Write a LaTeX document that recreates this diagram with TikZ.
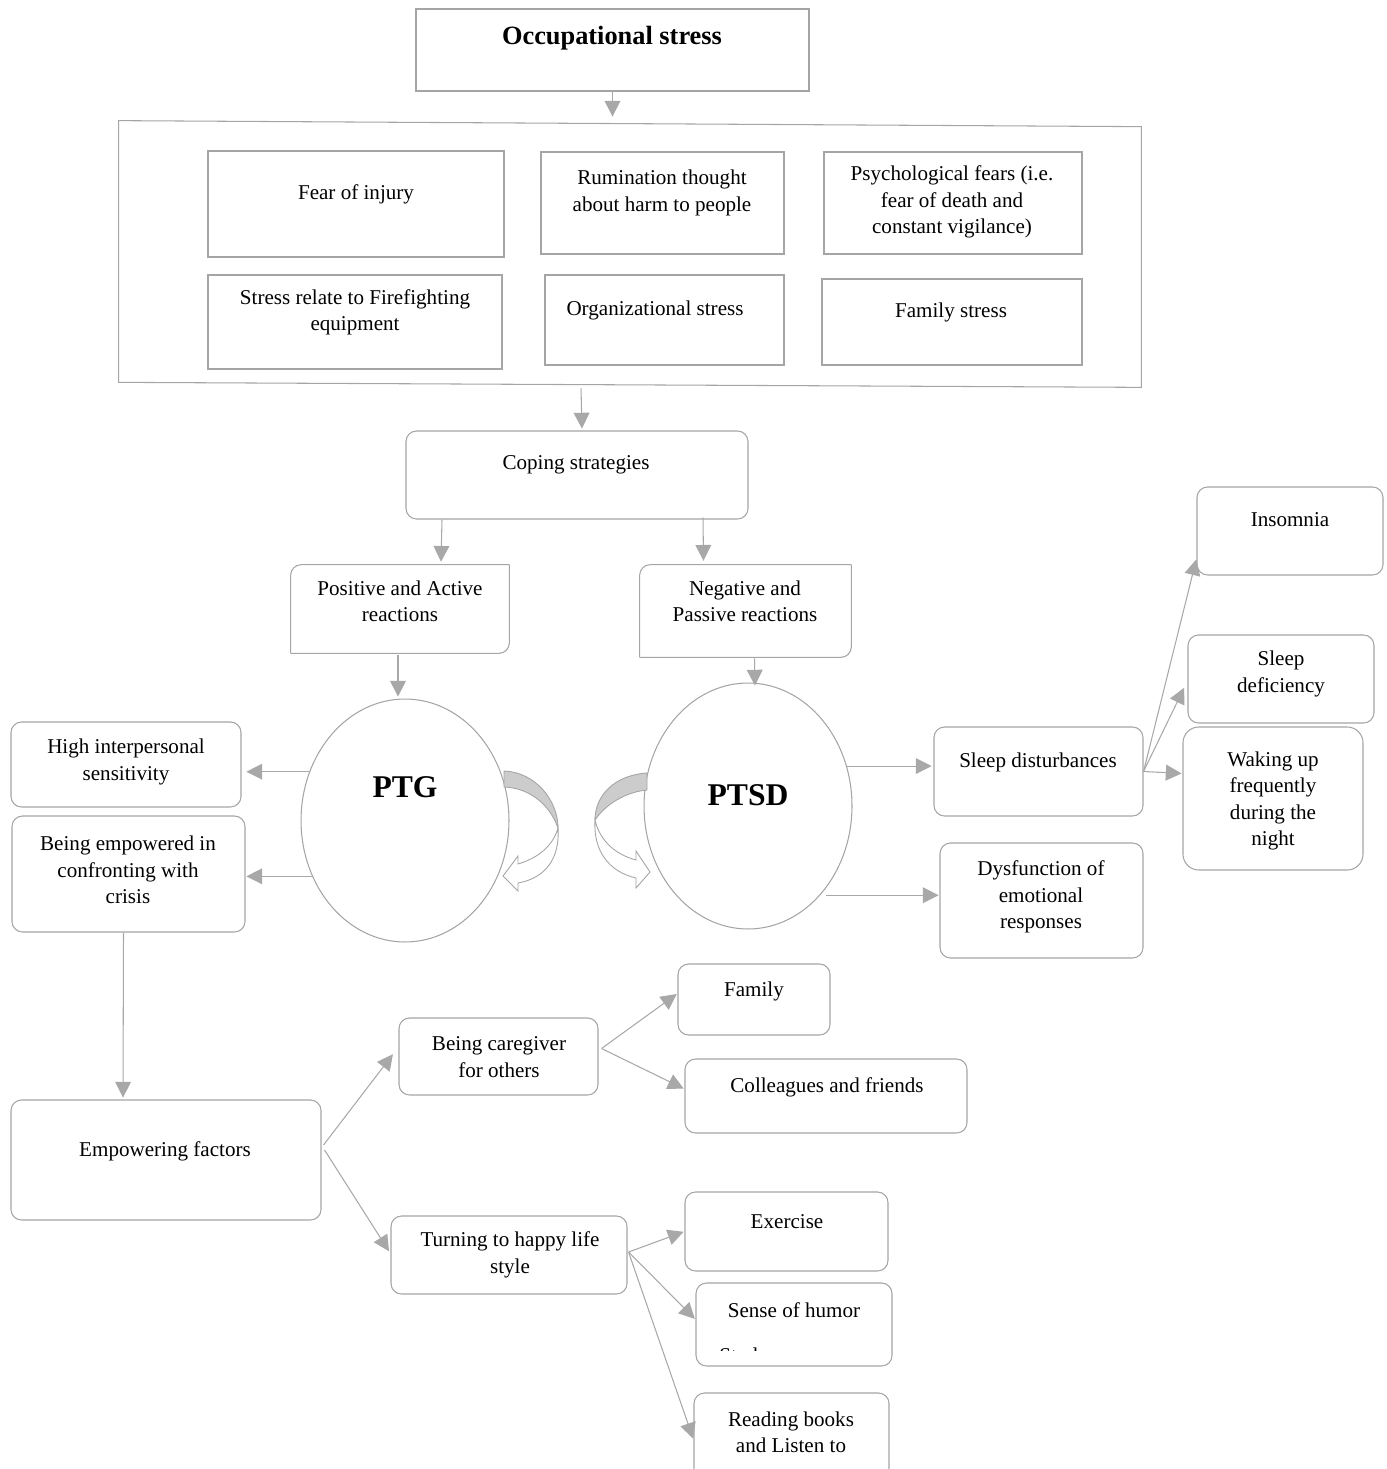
\documentclass[tikz,border=0pt]{standalone}
\usepackage{fontspec}
\setmainfont{Liberation Serif}
\usetikzlibrary{arrows.meta, calc, fit, shapes.geometric}

\definecolor{boxgray}{RGB}{165,165,165}
\definecolor{arrgray}{RGB}{168,168,168}
\definecolor{bandgray}{RGB}{204,204,204}

\tikzset{
    every node/.style={inner sep=0pt, align=center, font=\fontsize{12}{15}\selectfont},
    sq/.style={draw=boxgray, line width=0.6pt, fit={#1}},
    rsq/.style={sq={#1}, rounded corners=6pt},
    bare/.style={fit={#1}},
    cornerline/.style={draw=boxgray, line width=0.6pt, rounded corners=6pt},
    arr/.style={draw=arrgray, line width=0.6pt, -{Triangle[length=9pt, width=9pt, fill=arrgray]}, shorten >=0.5pt},
    titlefont/.style={font=\bfseries\fontsize{15}{18}\selectfont},
    bigfont/.style={font=\bfseries\fontsize{18}{21}\selectfont},
    curl/.style={draw=boxgray, line width=0.5pt}
}

\begin{document}
\begin{tikzpicture}[x=0.02cm, y=-0.02cm]
    \useasboundingbox (0,0) rectangle (1386,1469);

    % occupational stress and its sources
    \node[sq={(416,9) (809,91)}] (occ) {};
    \node[titlefont] (occtxt) at (612,38) {Occupational stress};

    \node[bare={(119,121) (1141,388)}] (stress) {};
    \draw[draw=boxgray, line width=0.6pt] (stress.north west) -- ($(stress.north east)+(0,6)$)
        -- ($(stress.south east)+(0,-1)$) -- ($(stress.south west)+(0,-6)$) -- cycle;

    \node[sq={(208,151) (504,257)}] (fear) {};
    \node[sq={(541,152) (784,254)}] (rumin) {};
    \node[sq={(824,152) (1082,254)}] (psych) {};
    \node[sq={(208,275) (502,369)}] (equip) {};
    \node[sq={(545,275) (784,365)}] (organ) {};
    \node[sq={(822,279) (1082,365)}] (famst) {};

    \node (feartxt) at (356,194) {Fear of injury};
    \node (rumintxt) at (662,193) {Rumination thought\\about harm to people};
    \node (psychtxt) at (952,202) {Psychological fears (i.e.\\fear of death and\\constant vigilance)};
    \node (equiptxt) at (355,312) {Stress relate to Firefighting\\equipment};
    \node (organtxt) at (655,310) {Organizational stress};
    \node (famsttxt) at (951,312) {Family stress};

    % coping
    \node[rsq={(406,431) (748,519)}] (coping) {};
    \node (copingtxt) at (576,465) {Coping strategies};

    \node[bare={(291,565) (509,653)}] (positive) {};
    \draw[cornerline] (positive.south west) -- (positive.north west) -- (positive.north east);
    \draw[cornerline] (positive.north east) -- (positive.south east) -- (positive.south west);
    \node (positivetxt) at (400,601) {Positive and Active\\reactions};

    \node[bare={(640,565) (851,657)}] (negative) {};
    \draw[cornerline] (negative.south west) -- (negative.north west) -- (negative.north east);
    \draw[cornerline] (negative.north east) -- (negative.south east) -- (negative.south west);
    \node (negativetxt) at (745,601) {Negative and\\Passive reactions};

    % PTG and PTSD
    \node[ellipse, draw=boxgray, line width=0.6pt, minimum width=4.16cm, minimum height=4.86cm] (ptg) at (405,820.5) {};
    \node[ellipse, draw=boxgray, line width=0.6pt, minimum width=4.16cm, minimum height=4.92cm] (ptsd) at (748,806) {};
    \node[bigfont] (ptgtxt) at (405,787) {PTG};
    \node[bigfont] (ptsdtxt) at (748,795) {PTSD};

    \draw[curl, fill=bandgray] (504,771) .. controls (535,772) and (558,800) .. (558,828)
        .. controls (550,805) and (530,788) .. (504,787) -- cycle;
    \draw[curl, fill=white] (558,828) .. controls (560,858) and (546,878) .. (518,883)
        -- (518,891) -- (503,876) -- (518,856) -- (518,864)
        .. controls (538,858) and (553,846) .. (558,828) -- cycle;
    \draw[curl, fill=bandgray] (647,773) .. controls (615,775) and (595,795) .. (595,820)
        .. controls (605,805) and (625,792) .. (647,790) -- cycle;
    \draw[curl, fill=white] (595,820) .. controls (593,852) and (610,872) .. (636,878)
        -- (636,888) -- (650,872) -- (636,851) -- (636,860)
        .. controls (617,855) and (600,842) .. (595,820) -- cycle;

    % growth side
    \node[rsq={(11,722) (241,807)}] (sensitiv) {};
    \node[rsq={(12,816) (245,932)}] (empower) {};
    \node[rsq={(11,1100) (321,1220)}] (factors) {};
    \node (sensitivtxt) at (126,762) {High interpersonal\\sensitivity};
    \node (empowertxt) at (128,870) {Being empowered in\\confronting with\\crisis};
    \node (factorstxt) at (165,1151) {Empowering factors};

    \node[rsq={(399,1018) (598,1095)}] (caregiver) {};
    \node[rsq={(391,1216) (627,1294)}] (happy) {};
    \node (caregivertxt) at (499,1057) {Being caregiver\\for others};
    \node (happytxt) at (510,1255) {Turning to happy life\\style};

    \node[rsq={(678,964) (830,1035)}] (family) {};
    \node[rsq={(685,1059) (967,1133)}] (friends) {};
    \node[rsq={(685,1192) (888,1271)}] (exercise) {};
    \node[rsq={(696,1283) (892,1366)}] (humor) {};
    \node[rsq={(694,1393) (889,1482)}] (reading) {};
    \node (familytxt) at (754,991) {Family};
    \node (friendstxt) at (827,1087) {Colleagues and friends};
    \node (exercisetxt) at (787,1222) {Exercise};
    \node (humortxt) at (794,1310) {Sense of humor};
    \begin{scope}
        \clip (700,1340) rectangle (890,1350);
        \node[anchor=base west] (studytxt) at (719,1362) {Study};
    \end{scope}
    \node (readingtxt) at (791,1432) {Reading books\\and Listen to};

    % disorder side
    \node[rsq={(934,727) (1143,816)}] (sleep) {};
    \node[rsq={(940,843) (1143,958)}] (dysfunc) {};
    \node[rsq={(1197,487) (1383,575)}] (insomnia) {};
    \node[rsq={(1188,635) (1374,723)}] (deficiency) {};
    \node[sq={(1183,727) (1363,870)}, rounded corners=9pt] (waking) {};
    \node (sleeptxt) at (1038,762) {Sleep disturbances};
    \node (dysfunctxt) at (1041,897) {Dysfunction of\\emotional\\responses};
    \node (insomniatxt) at (1290,520) {Insomnia};
    \node (deficiencytxt) at (1281,674) {Sleep\\deficiency};
    \node (wakingtxt) at (1273,801) {Waking up\\frequently\\during the\\night};

    % connectors
    \draw[arr, shorten >=2.3pt] (occ.south) -- (occ.south |- stress.north);
    \draw[arr] ($(stress.south)+(-49,0)$) -- ($(coping.north)+(5,-1)$);
    \draw[arr] ($(coping.south)+(-135,0)$) -- ($(positive.north)+(41,-2)$);
    \draw[arr] ($(coping.south)+(126,-2)$) -- ($(negative.north)+(-42,-3)$);
    \draw[arr] ($(positive.south)+(-2,2)$) -- ($(ptg.north)+(-7,-1)$);
    \draw[arr] ($(negative.south)+(9,1)$) -- ($(ptsd.north)+(7,4)$);

    \draw[arr] (ptg.153) -- ($(sensitiv.east |- ptg.153)+(4,0)$);
    \draw[arr] (ptg.211) -- ($(empower.east |- ptg.211)+(0,0)$);
    \draw[arr] (ptsd.22) -- ($(sleep.west |- ptsd.22)+(-1,0)$);
    \draw[arr] ($(ptsd.-51)+(6,0)$) -- (dysfunc.west |- ptsd.-51);

    \draw[arr] (sleep.east) -- ($(insomnia.south west)+(0,-17)$);
    \draw[arr] (sleep.east) -- ($(deficiency.west)+(-3,8)$);
    \draw[arr] (sleep.east) -- ($(waking.west |- sleep.east)+(0,2)$);

    \draw[arr] ($(empower.south)+(-5,0)$) -- ($(factors.north)+(-43,-1)$);
    \draw[arr] ($(factors.east)+(2,-15)$) -- ($(caregiver.west)+(-5,-3)$);
    \draw[arr] ($(factors.east)+(3,-10)$) -- ($(happy.west)+(-1,-3)$);
    \draw[arr] ($(caregiver.east)+(3,-8)$) -- ($(family.west)+(0,-6)$);
    \draw[arr] ($(caregiver.east)+(3,-8)$) -- ($(friends.west)+(0,-7)$);
    \draw[arr] ($(happy.east)+(1,-3)$) -- (exercise.west);
    \draw[arr] ($(happy.east)+(1,-3)$) -- ($(humor.west)+(0,-5)$);
    \draw[arr] ($(happy.east)+(1,-3)$) -- ($(reading.west)+(0,2)$);
\end{tikzpicture}
\end{document}
